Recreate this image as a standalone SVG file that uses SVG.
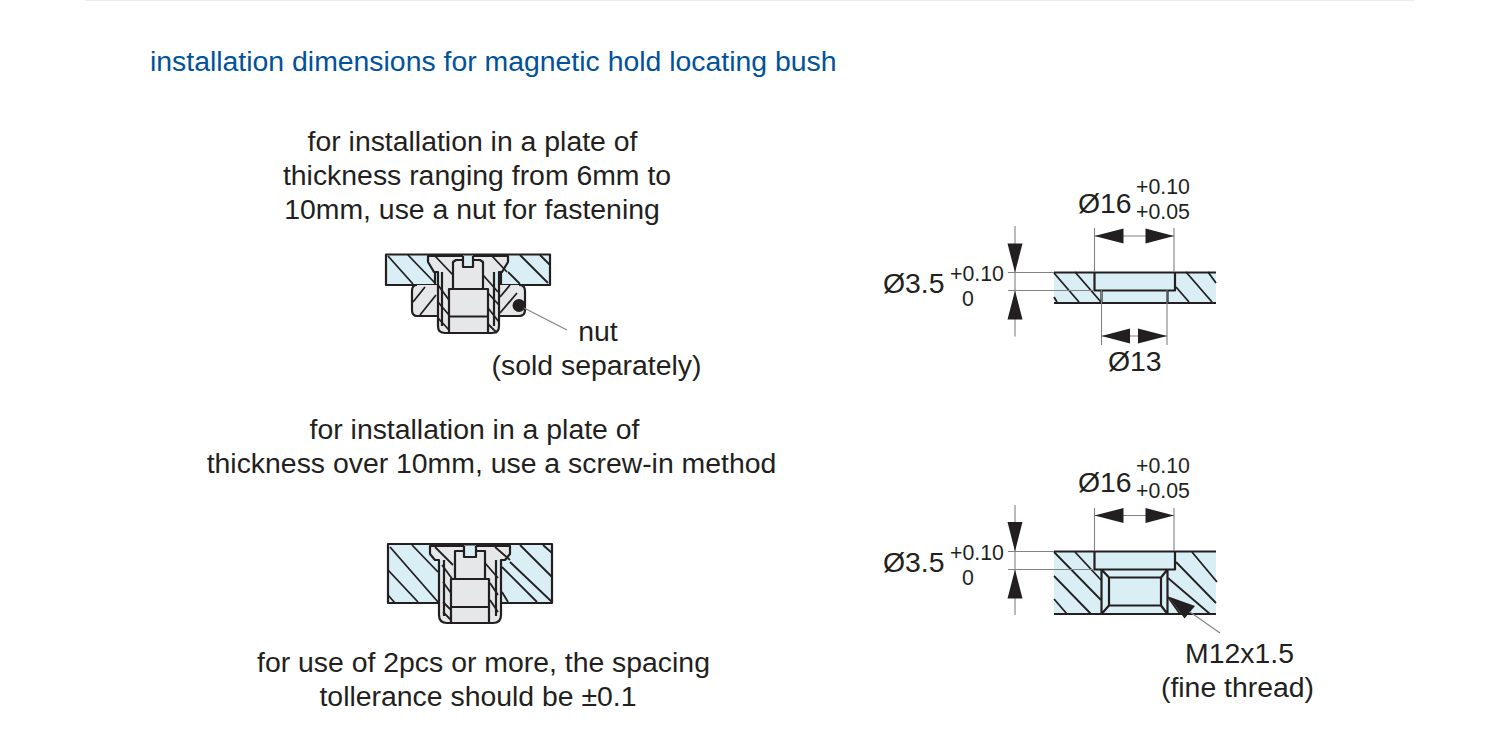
<svg xmlns="http://www.w3.org/2000/svg" width="1500" height="750" viewBox="0 0 1500 750">
<style>
text{font-family:"Liberation Sans",Arial,sans-serif;fill:#231f20;font-size:28.4px}
.m{text-anchor:middle}
.title{fill:#00529b}
.tol{font-size:21.3px}
.o{stroke:#231f20;stroke-width:2.2;stroke-linejoin:round;fill:none}
.blue{fill:#d9eff5}
.gray{fill:#e6e7e8}
.h{stroke:#231f20;stroke-width:1.8;fill:none}
.t{stroke:#808285;stroke-width:1.1;fill:none}
.ah{fill:#231f20;stroke:none}
</style>
<rect width="1500" height="750" fill="#fff"/>
<path d="M85 0H1415" stroke="#e6e7e8" stroke-width="1.5"/>
<text id="title" class="title" x="150" y="71">installation dimensions for magnetic hold locating bush</text>

<g id="text-left">
<text class="m" x="472.500" y="151">for installation in a plate of</text>
<text class="m" x="477" y="185">thickness ranging from 6mm to</text>
<text class="m" x="472" y="219">10mm, use a nut for fastening</text>
<text class="m" x="598" y="341">nut</text>
<text class="m" x="596.500" y="375">(sold separately)</text>
<text class="m" x="474.500" y="439">for installation in a plate of</text>
<text class="m" x="491.500" y="473">thickness over 10mm, use a screw-in method</text>
<text class="m" x="483.500" y="672">for use of 2pcs or more, the spacing</text>
<text class="m" x="478" y="706">tollerance should be ±0.1</text>
</g>

<g id="assembly-nut">
<path class="blue" d="M386 254.500H550V285H386Z"/>
<path class="h" d="M388 256L413 284M408 255L435 283M508 272L520 284M520 255L548 283M540 255L550 265"/>
<path class="o" d="M386 254.500H550V285H386Z"/>
<path class="gray" d="M417 285H519Q525 285 525 291V310Q525 316 519 316H417Q412 316 412 310V291Q412 285 417 285Z"/>
<path class="h" d="M413 302L425 287M420 315L436 295M500 297L510 285M500 313L517 293"/>
<path class="o" d="M438 316H417Q412 316 412 310V291Q412 285 417 285M519 285Q525 285 525 291V310Q525 316 519 316H499"/>
<path class="gray" d="M428 256H508V262L502 272H499V326Q499 333 492 333H445Q438 333 438 326V272H434L428 262Z"/>
<path class="blue" d="M435 272H442V284H435ZM494 272H501V284H494Z"/>
<path class="h" d="M435 256L453 275M492 256L507 272M483 275L498 292M438 285L449 300M438 302L449 315M438 318L449 330M488 293L499 305M488 308L499 322M488 324L497 333"/>
<path class="o" d="M435 272V284M442 272V326M494 272V326M501 272V284"/>
<path class="o" d="M428 256H508V262L502 272H499V326Q499 333 492 333H445Q438 333 438 326V272H434L428 262Z"/>
<path class="gray" d="M453 262L456 260H463V267H473V260H480L483 262V289H488V332H449V289H453Z"/>
<path class="blue" d="M463 255.500H473V267H463Z"/>
<path class="o" d="M449 333V289H488V333M449 316.500H488M453 289V262L456 260H463M473 260H480L483 262V289M463 256V267H473V256"/>
<circle class="ah" cx="519" cy="305.500" r="6.500"/>
<path class="t" d="M524 308L567 330"/>
</g>

<g id="assembly-screw">
<path class="blue" d="M388 544H552V603H388Z"/>
<path class="h" d="M390 547L438 602M412 545L438 572M388 570L418 602M388 595L395 603M510 562L552 602M520 545L552 577M502 567L537 602M502 592L508 602M543 545L552 553"/>
<path class="o" d="M388 544H552V603H388Z"/>
<path class="gray" d="M430 546H510V554L505 560H501V615Q501 623 493 623H447Q439 623 439 615V560H435L430 554Z"/>
<path class="blue" d="M438 560H444V574H438ZM496 560H502V574H496Z"/>
<path class="h" d="M435 547L453 565M442 565L453 580M443 582L451 593M443 602L451 610M443 612L451 620M495 547L510 560M485 563L498 578M490 583L498 595M490 600L498 612"/>
<path class="o" d="M444 560V616M496 560V616"/>
<path class="o" d="M430 546H510V554L505 560H501V615Q501 623 493 623H447Q439 623 439 615V560H435L430 554Z"/>
<path class="gray" d="M455 551H464V557H476V551H485V578H489V622H451V578H455Z"/>
<path class="blue" d="M464 545.500H476V557H464Z"/>
<path class="o" d="M451 622V579H489V622M451 607H489M455 578V551H464M476 551H485V578M464 546V557H476V546"/>
</g>

<g id="hole-through">
<path class="blue" d="M1054 272.500H1216V303H1054Z"/>
<path class="h" d="M1054 273L1079 302M1075 272L1101 302M1054 297L1057 302M1176 287L1189 302M1186 272L1212 302M1208 272L1216 283"/>
<path class="o" d="M1054 272.500H1216M1054 303H1216M1094.500 272.500V290.500H1175V272.500M1101.500 290.500V303M1167.500 290.500V303"/>
</g>

<g id="hole-threaded">
<path class="blue" d="M1054 551.500H1216V614H1054Z"/>
<path class="h" d="M1054 552L1101 600M1075 552L1101 580M1054 576L1091 614M1054 599L1067 614M1192 552L1217 582M1176 562L1216 603M1168 578L1210 614M1168 597L1180 614"/>
<path class="o" d="M1054 551.500H1216M1054 614H1216M1094.500 551.500V569.500H1175V551.500M1101.500 569.500V614M1167.500 569.500V614M1109 577.500H1161V605.500H1109ZM1101.500 569.500L1109 577.500M1167.500 569.500L1161 577.500M1101.500 614L1109 605.500M1167.500 614L1161 605.500"/>
</g>

<g id="connectors">
<path class="t" d="M1015 226V336.500M1008 272.500H1054M1008 290.500H1094M1094.500 228V272M1174 228V272M1101.500 290V345M1167 290V345M1094.500 236H1174M1101.500 336H1167"/>
<path class="t" d="M1015 505V615M1008 551.500H1054M1008 569.500H1094M1094.500 508V551M1174 508V551M1094.500 515.500H1174M1190 612L1220 633"/>
<path class="ah" d="M1094.500 236L1123.500 228.500V243.500ZM1174 236L1145.500 228.500V243.500ZM1101.500 336L1130 328.500V343.500ZM1167 336L1138 328.500V343.500ZM1015 272.500L1007.500 243.500H1022.500ZM1015 290.500L1007.500 319.500H1022.500Z"/>
<path class="ah" d="M1094.500 515.500L1123.500 508V523ZM1174 515.500L1145.500 508V523ZM1015 551.500L1007.500 522H1022.500ZM1015 569.500L1007.500 598.500H1022.500ZM1168.500 596.500L1195 606L1184.500 618.500Z"/>
</g>

<g id="dimension-text">
<text x="1078" y="213">Ø16</text>
<text class="tol" x="1136" y="194">+0.10</text>
<text class="tol" x="1136" y="219">+0.05</text>
<text x="883" y="293">Ø3.5</text>
<text class="tol" x="950" y="281">+0.10</text>
<text class="tol" x="962" y="306">0</text>
<text x="1108" y="371">Ø13</text>
<text x="1078" y="492">Ø16</text>
<text class="tol" x="1136" y="473">+0.10</text>
<text class="tol" x="1136" y="498">+0.05</text>
<text x="883" y="572">Ø3.5</text>
<text class="tol" x="950" y="560">+0.10</text>
<text class="tol" x="962" y="585">0</text>
<text class="m" x="1239.500" y="663">M12x1.5</text>
<text class="m" x="1237.500" y="697">(fine thread)</text>
</g>
</svg>
